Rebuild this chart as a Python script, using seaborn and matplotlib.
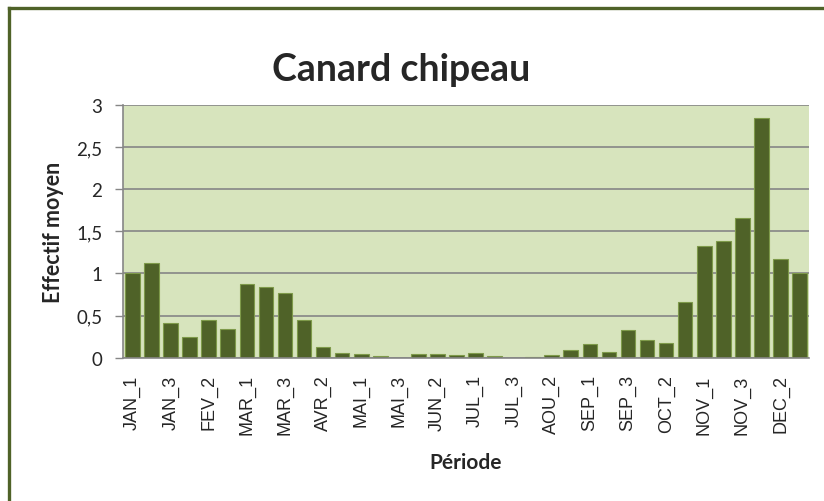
import matplotlib
matplotlib.use('Agg')
import matplotlib.pyplot as plt
import seaborn as sns
from matplotlib.lines import Line2D

# periods (3 per month), only every other one gets a label on the axis
months = ['JAN', 'FEV', 'MAR', 'AVR', 'MAI', 'JUN', 'JUL', 'AOU', 'SEP', 'OCT', 'NOV', 'DEC']
periods = [m + '_' + str(k) for m in months for k in (1, 2, 3)]

effectif = [1.00, 1.125, 0.41, 0.24, 0.45, 0.34,
            0.87, 0.84, 0.765, 0.45, 0.13, 0.06,
            0.04, 0.015, 0.0, 0.04, 0.045, 0.03,
            0.06, 0.02, 0.0, 0.005, 0.03, 0.09,
            0.16, 0.07, 0.325, 0.205, 0.18, 0.66,
            1.33, 1.39, 1.655, 2.845, 1.17, 1.01]

yticks = [0, 0.5, 1, 1.5, 2, 2.5, 3]
ytick_labels = ['0', '0,5', '1', '1,5', '2', '2,5', '3']

sns.set_style('white')
plt.rcParams['font.family'] = ['Lato', 'DejaVu Sans']

fig = plt.figure(figsize=(8.24, 5.02), dpi=100)
ax = fig.add_axes([0.1493, 0.2855, 0.8325, 0.5033])
ax.set_facecolor('#D7E4BD')

sns.barplot(x=periods, y=effectif, order=periods, color='#4F6228', saturation=1,
            width=0.77, edgecolor='#7E9A4A', linewidth=0.8, ax=ax)

ax.set_xlim(-0.5, len(periods) - 0.5)
ax.set_ylim(0, 3)
ax.set_yticks(yticks)
ax.set_yticklabels(ytick_labels, fontsize=13.5)
ax.yaxis.grid(True, color='#868686', linewidth=1.2)
ax.set_axisbelow(True)

# labels on every other period, ticks at category boundaries
ax.set_xticks(range(0, len(periods), 2))
ax.set_xticklabels(periods[::2], rotation=90, fontsize=13, family='Liberation Sans')
ax.tick_params(axis='x', length=0, pad=12)
ax.set_xticks([i - 0.5 for i in range(len(periods) + 1)], minor=True)
ax.tick_params(axis='x', which='minor', length=6, color='#868686', width=1)
ax.tick_params(axis='y', length=6, color='#868686', width=1, left=True, pad=9)

for s in ['top', 'right']:
    ax.spines[s].set_visible(False)
for s in ['left', 'bottom']:
    ax.spines[s].set_color('#868686')
    ax.spines[s].set_linewidth(1.2)

ax.set_xlabel('Période', fontsize=15, fontweight='bold')
ax.set_ylabel('Effectif moyen', fontsize=15.5, fontweight='bold')
ax.xaxis.set_label_coords(0.5, -0.413)
ax.xaxis.label.set_va('center')
ax.yaxis.set_label_coords(-0.102, 0.5)
ax.yaxis.label.set_va('center')

fig.text(401 / 824, 1 - 70 / 502, 'Canard chipeau', ha='center', va='center',
         fontsize=27, fontweight='bold')

# chart frame (only top and left edges are visible in the crop)
fig.add_artist(Line2D([8.5 / 824, 8.5 / 824], [0, 1 - 8.5 / 502], transform=fig.transFigure,
                      color='#4F6228', linewidth=2.4, solid_capstyle='projecting'))
fig.add_artist(Line2D([8.5 / 824, 1], [1 - 8.5 / 502, 1 - 8.5 / 502], transform=fig.transFigure,
                      color='#4F6228', linewidth=2.4, solid_capstyle='projecting'))

fig.savefig('out.png', dpi=100, facecolor='white')
